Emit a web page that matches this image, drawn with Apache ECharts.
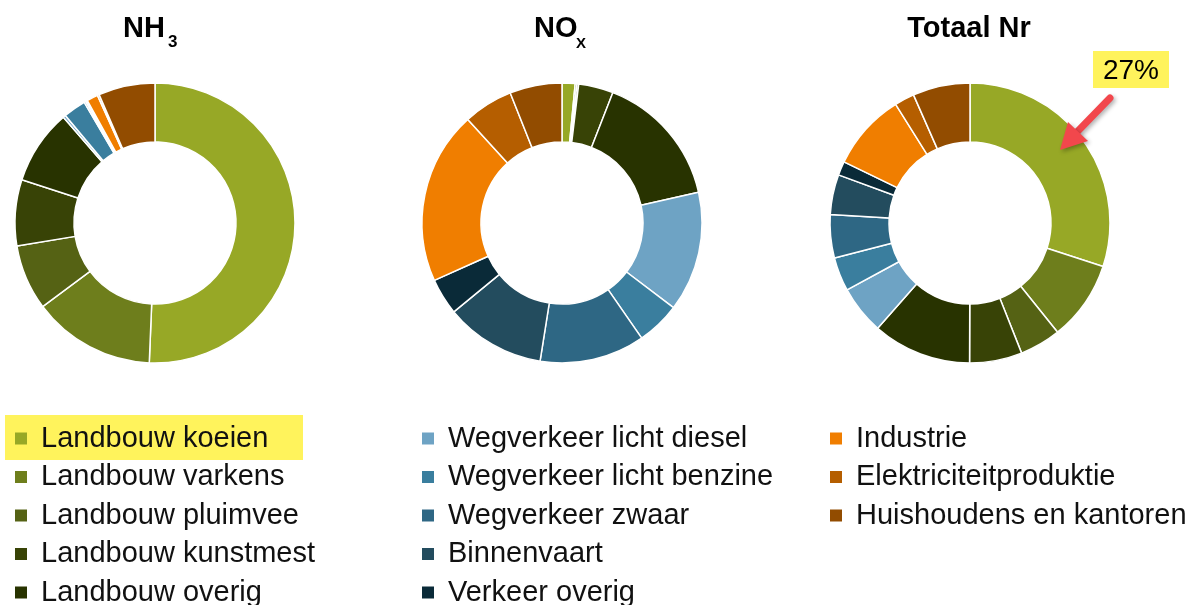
<!DOCTYPE html>
<html>
<head>
<meta charset="utf-8">
<script src="https://cdn.jsdelivr.net/npm/echarts@6/dist/echarts.min.js"></script>
<style>
  html, body { margin: 0; padding: 0; background: #fff; }
  #chart { width: 1204px; height: 605px; }
</style>
</head>
<body>
<div id="chart"></div>
<script>
// sources (same order in all three donuts)
const categories = [
  "Landbouw koeien", "Landbouw varkens", "Landbouw pluimvee", "Landbouw kunstmest", "Landbouw overig",
  "Wegverkeer licht diesel", "Wegverkeer licht benzine", "Wegverkeer zwaar", "Binnenvaart", "Verkeer overig",
  "Industrie", "Elektriciteitproduktie", "Huishoudens en kantoren"
];
const colors = [
  "#97A826", "#6E7E1C", "#556214", "#384306", "#283300",
  "#6EA3C4", "#3A7E9E", "#2E6784", "#234C5E", "#0A2A38",
  "#F07E00", "#B55E00", "#924C00"
];
// share in %
const nh3Values = [50.4, 14.1, 7.5, 7.6, 8.6, 0.3, 2.6, 0.2, 0.1, 0.1, 1.3, 0.2, 6.5];
const noxValues = [1.5, 0.2, 0.2, 4.0, 15.5, 13.8, 5.0, 12.1, 11.5, 4.2, 19.9, 5.7, 6.0];
const totalValues = [30.0, 9.2, 4.75, 6.05, 11.4, 5.6, 3.9, 5.0, 4.6, 1.6, 8.9, 2.3, 6.6];
const calloutText = "27%";

const chart = echarts.init(document.getElementById("chart"));

function donut(name, values, cx) {
  return {
    name: name,
    type: "pie",
    center: [cx, 223],
    radius: [81, 140],
    startAngle: 90,
    label: { show: false },
    labelLine: { show: false },
    emphasis: { disabled: true },
    itemStyle: { borderColor: "#fff", borderWidth: 1.5 },
    data: categories.map((c, i) => ({ name: c, value: values[i] }))
  };
}

function legendCol(left, names) {
  return {
    orient: "vertical",
    left: left,
    top: 424,
    height: 300,
    padding: 0,
    itemWidth: 12,
    itemHeight: 12,
    itemGap: 9.5,
    icon: "rect",
    selectedMode: false,
    itemStyle: { borderWidth: 0 },
    data: names,
    textStyle: {
      fontFamily: "Liberation Sans",
      fontSize: 29,
      color: "#111",
      padding: [0, 0, 0, 9]
    }
  };
}

const titleFont = "bold 29px 'Liberation Sans'";
const yellow = "#FFF35C";
const red = "#F2474C";

chart.setOption({
  animation: false,
  color: colors,
  legend: [
    legendCol(15, categories.slice(0, 5)),
    legendCol(422, categories.slice(5, 10)),
    legendCol(830, categories.slice(10))
  ],
  graphic: [
    // highlight behind first legend entry
    { type: "rect", z: 0, shape: { x: 5, y: 415, width: 298, height: 45 }, style: { fill: yellow } },
    // titles
    { type: "text", style: { text: "NH", x: 123, y: 29, font: titleFont, fill: "#000", verticalAlign: "middle" } },
    { type: "text", style: { text: "3", x: 168, y: 42, font: "bold 17px 'Liberation Sans'", fill: "#000", verticalAlign: "middle" } },
    { type: "text", style: { text: "NO", x: 534, y: 29, font: titleFont, fill: "#000", verticalAlign: "middle" } },
    { type: "text", style: { text: "X", x: 576, y: 44, font: "bold 15px 'Liberation Sans'", fill: "#000", verticalAlign: "middle" } },
    { type: "text", style: { text: "Totaal Nr", x: 969, y: 29, font: titleFont, fill: "#000", align: "center", verticalAlign: "middle" } },
    // callout
    { type: "rect", z: 20, shape: { x: 1093, y: 51, width: 76, height: 37 }, style: { fill: yellow } },
    { type: "text", z: 21, style: { text: calloutText, x: 1131, y: 71, font: "28px 'Liberation Sans'", fill: "#000", align: "center", verticalAlign: "middle" } },
    {
      type: "line", z: 20,
      shape: { x1: 1110, y1: 98, x2: 1077, y2: 132 },
      style: { stroke: red, lineWidth: 7, lineCap: "round", shadowBlur: 4, shadowColor: "rgba(0,0,0,0.3)", shadowOffsetX: 2, shadowOffsetY: 2 }
    },
    {
      type: "polygon", z: 20,
      shape: { points: [[1060, 150], [1068, 122], [1088, 141]] },
      style: { fill: red, shadowBlur: 4, shadowColor: "rgba(0,0,0,0.3)", shadowOffsetX: 2, shadowOffsetY: 2 }
    }
  ],
  series: [
    donut("NH3", nh3Values, 155),
    donut("NOx", noxValues, 562),
    donut("Totaal Nr", totalValues, 970)
  ]
});
</script>
</body>
</html>
